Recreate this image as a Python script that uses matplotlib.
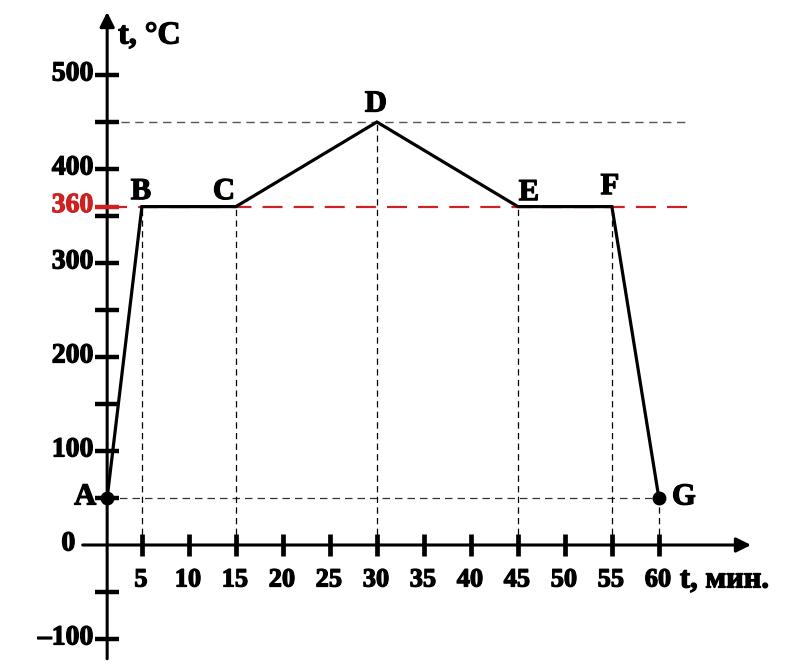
import matplotlib.pyplot as plt
import matplotlib.patheffects as pe

# heating schedule
times = [1.3, 5, 15, 30, 45, 55, 60]
temps = [50, 360, 360, 450, 360, 360, 50]
point_names = ['A', 'B', 'C', 'D', 'E', 'F', 'G']
# label offsets in pixels from each point
name_offsets = [(-22, 1), (-1, 15), (-12, 15), (-1, 18), (11, 14), (-2, 20), (25, 1)]

x_ticks = [5, 10, 15, 20, 25, 30, 35, 40, 45, 50, 55, 60]
y_ticks = [-100, -50, 50, 100, 150, 200, 250, 300, 350, 400, 450, 500]
y_labels = [500, 400, 300, 200, 100, -100]
hold_temp = 360
peak_temp = 450

axis_x = 1.3        # where the temperature axis stands
line_end = 63.3
red = '#cc2222'

plt.rcParams['font.family'] = ['Liberation Serif', 'DejaVu Serif']
plt.rcParams['font.weight'] = 'bold'

fig = plt.figure(figsize=(7.98, 6.64), dpi=100)
ax = fig.add_axes([0, 0, 1, 1])
ax.set_xlim(-10.1, 74.8)
ax.set_ylim(-126.6, 579.8)
ax.axis('off')


def heavy(color='black'):
    # the reference type is a very heavy bold, thicken it a little
    return [pe.withStroke(linewidth=0.9, foreground=color)]


# guide lines
ax.plot([axis_x, line_end], [peak_temp, peak_temp], color='#555555', lw=1.0,
        dashes=(6, 4), zorder=1)
ax.plot([axis_x, line_end], [hold_temp, hold_temp], color=red, lw=1.6,
        dashes=(9, 5), zorder=1)
ax.plot([times[0], times[-1]], [temps[0], temps[-1]], color='#333333', lw=0.9,
        dashes=(6, 4), zorder=1)
for t, v in zip(times[1:], temps[1:]):
    ax.plot([t, t], [0, v], color='black', lw=0.9, dashes=(5, 3.5), zorder=1)

# axes with arrows
ax.annotate('', xy=(axis_x, 567), xytext=(axis_x, -121),
            arrowprops=dict(arrowstyle='-|>', color='black', lw=2.2,
                            mutation_scale=22, shrinkA=0, shrinkB=0))
ax.annotate('', xy=(69.8, 0), xytext=(-1.3, 0),
            arrowprops=dict(arrowstyle='-|>', color='black', lw=2.2,
                            mutation_scale=22, shrinkA=0, shrinkB=0))

# ticks
ax.plot([axis_x] * len(y_ticks), y_ticks, ls='none', marker='_', ms=17,
        mew=3.2, color='black', zorder=3)
ax.plot([axis_x], [hold_temp], ls='none', marker='_', ms=17, mew=3.2,
        color=red, zorder=4)
ax.plot(x_ticks, [0] * len(x_ticks), ls='none', marker='|', ms=16, mew=3.4,
        color='black', zorder=3)

# the schedule itself
ax.plot(times, temps, color='black', lw=2.3, zorder=5, solid_joinstyle='miter')
ax.plot([times[0], times[-1]], [temps[0], temps[-1]], ls='none', marker='o',
        ms=9, color='black', zorder=6)

for name, t, v, off in zip(point_names, times, temps, name_offsets):
    ax.annotate(name, xy=(t, v), xytext=off, textcoords='offset pixels',
                ha='center', va='center', fontsize=22, fontweight='bold',
                path_effects=heavy())

# tick labels
for v in y_labels:
    txt = '\u2013100' if v < 0 else str(v)
    ax.annotate(txt, xy=(axis_x, v), xytext=(-14, 1), textcoords='offset pixels',
                ha='right', va='center', fontsize=20, fontweight='bold',
                path_effects=heavy())
ax.annotate('0', xy=(axis_x, 0), xytext=(-32, 1), textcoords='offset pixels',
            ha='right', va='center', fontsize=20, fontweight='bold',
            path_effects=heavy())
ax.annotate(str(hold_temp), xy=(axis_x, hold_temp), xytext=(-14, 1),
            textcoords='offset pixels', ha='right', va='center', fontsize=20,
            fontweight='bold', color=red, path_effects=heavy(red))
for t in x_ticks:
    ax.annotate(str(t), xy=(t, 0), xytext=(-1, -35), textcoords='offset pixels',
                ha='center', va='center', fontsize=19, fontweight='bold',
                path_effects=heavy())

ax.annotate('t, \u00b0C', xy=(axis_x, 500), xytext=(11, 39),
            textcoords='offset pixels', ha='left', va='center', fontsize=23,
            fontweight='bold', path_effects=heavy())
ax.annotate('t, \u043c\u0438\u043d.', xy=(60, 0), xytext=(21, -35),
            textcoords='offset pixels', ha='left', va='center', fontsize=22,
            fontweight='bold', path_effects=heavy())

fig.savefig('out.png', dpi=100)
